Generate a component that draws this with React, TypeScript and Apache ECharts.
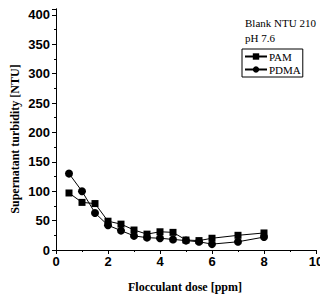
import React, { useEffect, useRef } from "react";
import * as echarts from "echarts";

const doses = [0.5, 1, 1.5, 2, 2.5, 3, 3.5, 4, 4.5, 5, 5.5, 6, 7, 8];
const pamValues = [97, 81, 79, 49, 44, 34, 27, 31, 30, 17, 16, 20, 25, 29];
const pdmaValues = [130, 100, 63, 42, 33, 24, 21, 20, 18, 16, 14, 10, 14, 22];
const seriesNames = ["PAM", "PDMA"];
const annotations = ["Blank NTU 210", "pH 7.6"];
const xTitle = "Flocculant dose [ppm]";
const yTitle = "Supernatant turbidity [NTU]";

export default function App() {
  const ref = useRef<HTMLDivElement>(null);
  useEffect(() => {
    if (!ref.current) return;
    const chart = echarts.init(ref.current, null, { renderer: "svg" });
    const serif = "'Liberation Serif', 'Times New Roman', serif";
    const sans = "'Liberation Sans', Arial, sans-serif";
    const axisLine = { show: true, lineStyle: { color: "#000", width: 1 } };
    const baseX = {
      type: "value" as const,
      min: 0,
      max: 10,
      interval: 2,
      splitLine: { show: false },
      axisLine,
      minorTick: { show: true, splitNumber: 2, length: 2, lineStyle: { color: "#000" } },
    };
    const baseY = {
      type: "value" as const,
      min: 0,
      max: 410,
      interval: 50,
      splitLine: { show: false },
      axisLine,
      minorTick: { show: true, splitNumber: 2, length: 2, lineStyle: { color: "#000" } },
    };
    const mk = (vals: number[]) => doses.map((d, i) => [d, vals[i]]);
    chart.setOption({
      animation: false,
      backgroundColor: "#fff",
      grid: {
        left: 56,
        right: 4,
        top: 9,
        bottom: 46,
        containLabel: false,
        outerBoundsMode: "none",
      },
      xAxis: [
        {
          ...baseX,
          position: "bottom",
          axisTick: { show: true, inside: false, length: 4, lineStyle: { color: "#000" } },
          axisLabel: {
            show: true,
            color: "#000",
            fontFamily: sans,
            fontWeight: "bold",
            fontSize: 13,
            margin: 5,
          },
        },
        {
          ...baseX,
          position: "top",
          axisTick: { show: true, inside: true, length: 4, lineStyle: { color: "#000" } },
          axisLabel: { show: false },
        },
      ],
      yAxis: [
        {
          ...baseY,
          position: "left",
          axisTick: { show: true, inside: false, length: 4, lineStyle: { color: "#000" } },
          axisLabel: {
            show: true,
            color: "#000",
            fontFamily: sans,
            fontWeight: "bold",
            fontSize: 13,
            margin: 6,
            formatter: (v: number) => (v % 50 === 0 ? String(v) : ""),
          },
        },
        {
          ...baseY,
          position: "right",
          axisTick: { show: true, inside: true, length: 4, lineStyle: { color: "#000" } },
          axisLabel: { show: false },
        },
      ],
      legend: {
        orient: "vertical",
        left: 242,
        top: 49,
        borderColor: "#000",
        borderWidth: 1,
        borderRadius: 0,
        padding: [2, 2, 2, 2],
        itemGap: 2,
        itemWidth: 22,
        itemHeight: 8,
        textStyle: { fontFamily: serif, fontSize: 11, color: "#000", padding: [0, 0, 0, -3] },
        data: seriesNames,
      },
      graphic: [
        {
          type: "text",
          left: 245,
          top: 17,
          style: { text: annotations[0], fontFamily: serif, fontSize: 11, fill: "#000" },
        },
        {
          type: "text",
          left: 245,
          top: 32,
          style: { text: annotations[1], fontFamily: serif, fontSize: 11, fill: "#000" },
        },
        {
          type: "text",
          x: 185,
          y: 287,
          style: {
            text: xTitle,
            fontFamily: serif,
            fontSize: 12,
            fontWeight: "bold",
            fill: "#000",
            align: "center",
            verticalAlign: "middle",
          },
        },
        {
          type: "text",
          x: 15,
          y: 139,
          rotation: Math.PI / 2,
          style: {
            text: yTitle,
            fontFamily: serif,
            fontSize: 12,
            fontWeight: "bold",
            fill: "#000",
            align: "center",
            verticalAlign: "middle",
          },
        },
      ],
      series: [
        {
          name: seriesNames[0],
          type: "line",
          data: mk(pamValues),
          symbol: "rect",
          symbolSize: 7,
          itemStyle: { color: "#000" },
          lineStyle: { color: "#000", width: 1 },
        },
        {
          name: seriesNames[1],
          type: "line",
          data: mk(pdmaValues),
          symbol: "circle",
          symbolSize: 8,
          itemStyle: { color: "#000" },
          lineStyle: { color: "#000", width: 1 },
        },
      ],
    });
    return () => chart.dispose();
  }, []);
  return (
    <div
      ref={ref}
      style={{ position: "fixed", left: 0, top: 0, width: 320, height: 296 }}
    />
  );
}
